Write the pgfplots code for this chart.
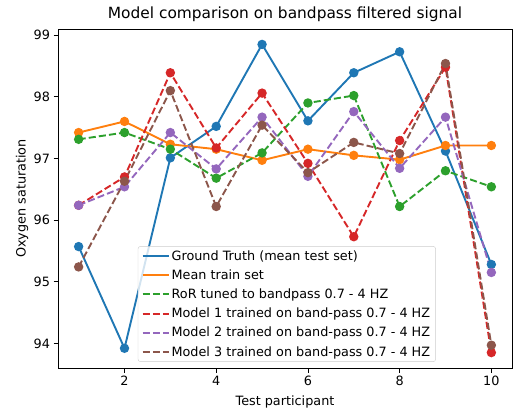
\documentclass[border=0pt]{standalone}
\usepackage{pgfplots}
\pgfplotsset{compat=1.18}
\usepackage{fontspec}
\setmainfont{DejaVu Sans}

\definecolor{tabblue}{HTML}{1F77B4}
\definecolor{taborange}{HTML}{FF7F0E}
\definecolor{tabgreen}{HTML}{2CA02C}
\definecolor{tabred}{HTML}{D62728}
\definecolor{tabpurple}{HTML}{9467BD}
\definecolor{tabbrown}{HTML}{8C564B}

\pgfplotsset{
  mplline/.style={line width=1.9bp, mark=*, mark size=3.7bp, mark options={solid}},
  mpldash/.style={mplline, dash pattern=on 7.1bp off 3.1bp},
}

\begin{document}
\begin{tikzpicture}
\useasboundingbox (-58bp,-44bp) rectangle (458bp,368bp);
\begin{axis}[
  scale only axis,
  width=454bp, height=339bp,
  xmin=0.55, xmax=10.45,
  ymin=93.6, ymax=99.1,
  xtick={2,4,6,8,10},
  ytick={94,95,96,97,98,99},
  tick align=outside,
  xtick pos=bottom, ytick pos=left,
  major tick length=4.5bp,
  every tick/.style={black, line width=0.85bp},
  axis line style={line width=0.85bp},
  tick label style={font=\fontsize{12.8bp}{15bp}\selectfont},
  /pgf/number format/assume math mode=true,
  label style={font=\fontsize{12.8bp}{15bp}\selectfont},
  title style={font=\fontsize{15.4bp}{18bp}\selectfont, at={(0.5,1)}, anchor=base, yshift=5bp},
  title={Model comparison on bandpass filtered signal},
  xlabel={Test participant},
  ylabel={Oxygen saturation},
  xlabel style={at={(axis description cs:0.5,0)}, anchor=base, yshift=-37bp},
  ylabel style={at={(axis description cs:-0.0793,0.5)}, anchor=center},
  legend style={
    at={(axis description cs:0.504,0.018)}, anchor=south,
    font=\fontsize{12.8bp}{15bp}\selectfont,
    draw=black!20, rounded corners=2.5bp, fill=white, fill opacity=0.8, text opacity=1,
    row sep=7bp, inner sep=3.5bp,
    nodes={inner ysep=0.5bp},
  },
  legend cell align=left,
  legend image code/.code={\draw[#1, line width=2.1bp] (0bp,0bp) -- (26bp,0bp);},
]
% Ground truth
\addplot[mplline, color=tabblue] coordinates {
  (1,95.57) (2,93.92) (3,97.01) (4,97.52) (5,98.85)
  (6,97.61) (7,98.39) (8,98.73) (9,97.12) (10,95.28)};
\addlegendentry{Ground Truth (mean test set)}
% Mean train set
\addplot[mplline, color=taborange] coordinates {
  (1,97.42) (2,97.60) (3,97.23) (4,97.15) (5,96.97)
  (6,97.15) (7,97.05) (8,96.98) (9,97.21) (10,97.21)};
\addlegendentry{Mean train set}
% RoR
\addplot[mpldash, color=tabgreen] coordinates {
  (1,97.31) (2,97.42) (3,97.15) (4,96.68) (5,97.09)
  (6,97.90) (7,98.02) (8,96.22) (9,96.80) (10,96.54)};
\addlegendentry{RoR tuned to bandpass 0.7 - 4 HZ}
% Model 1
\addplot[mpldash, color=tabred] coordinates {
  (1,96.24) (2,96.70) (3,98.39) (4,97.17) (5,98.06)
  (6,96.92) (7,95.73) (8,97.29) (9,98.48) (10,93.85)};
\addlegendentry{Model 1 trained on band-pass 0.7 - 4 HZ}
% Model 2
\addplot[mpldash, color=tabpurple] coordinates {
  (1,96.24) (2,96.54) (3,97.42) (4,96.83) (5,97.67)
  (6,96.71) (7,97.76) (8,96.84) (9,97.67) (10,95.15)};
\addlegendentry{Model 2 trained on band-pass 0.7 - 4 HZ}
% Model 3
\addplot[mpldash, color=tabbrown] coordinates {
  (1,95.24) (2,96.63) (3,98.10) (4,96.22) (5,97.54)
  (6,96.77) (7,97.26) (8,97.08) (9,98.54) (10,93.97)};
\addlegendentry{Model 3 trained on band-pass 0.7 - 4 HZ}
\end{axis}
\end{tikzpicture}
\end{document}
